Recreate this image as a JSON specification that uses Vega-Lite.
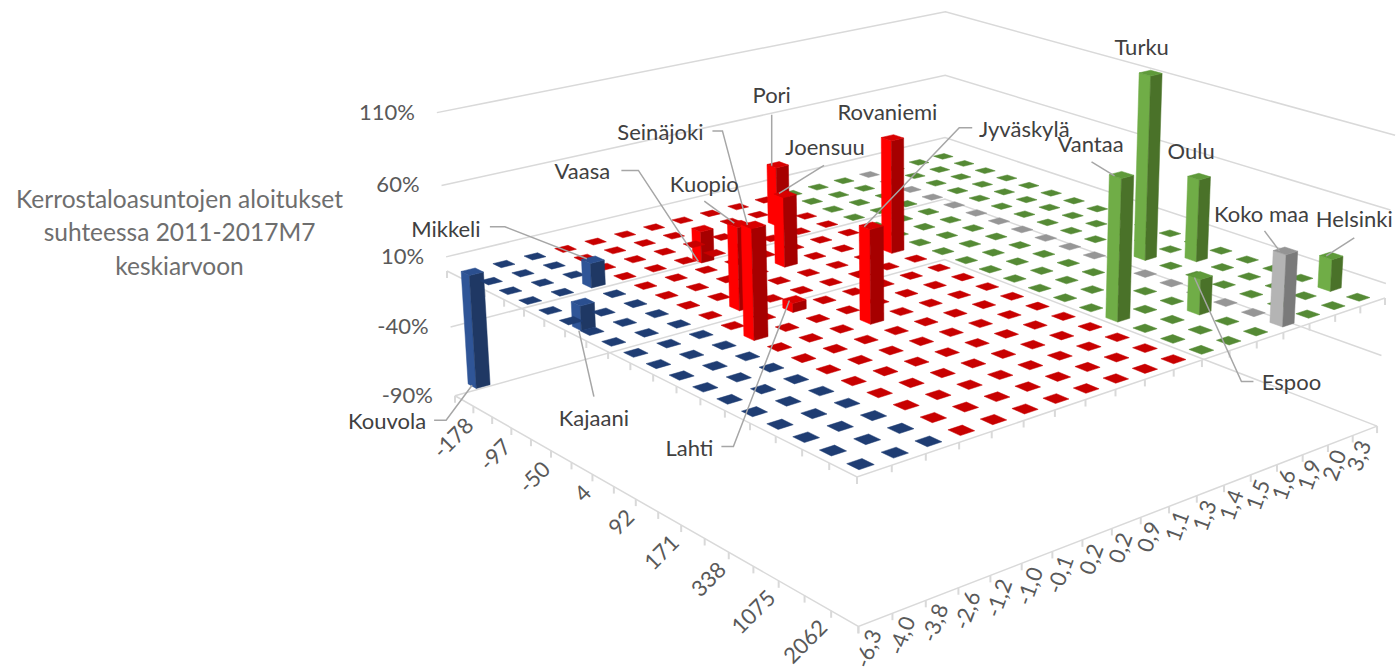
{"$schema":"https://vega.github.io/schema/vega-lite/v6.json","width":1399,"height":669,"padding":0,"autosize":{"type":"none"},"background":"white","config":{"view":{"stroke":null},"text":{"font":"Lato"}},
"params":[
{"name":"muoto","value":[[[-1,-1,1],[1,-1,1],[1,-1,0],[-1,-1,0],[-1,-1,1]],[[1,-1,1],[1,1,1],[1,1,0],[1,-1,0],[1,-1,1]],[[-1,-1,1],[1,-1,1],[1,1,1],[-1,1,1],[-1,-1,1]]]},
{"name":"varit","value":{"sin":["#2F5597","#1F3864","#2B4F8F","#1F3D73"],"pun":["#FF0000","#A60000","#D80000","#C80000"],"vih":["#70AD47","#4A7229","#5F9A3A","#558A35"],"har":["#B4B4B4","#7A7A7A","#949494","#969696"]}},
{"name":"etiketit","value":{
"Turku":{"dx":-9,"dy":-25,"viiva":[]},
"Oulu":{"dx":-8,"dy":-25,"viiva":[]},
"Rovaniemi":{"dx":-5,"dy":-25,"viiva":[]},
"Vantaa":{"dx":-31,"dy":-30,"viiva":[[-30,-13],[-7,1]]},
"Pori":{"dx":-6,"dy":-69,"viiva":[[-6,-50],[-6,1]]},
"Joensuu":{"dx":40,"dy":-46,"viiva":[[39,-29],[-6,-1]]},
"Seinäjoki":{"dx":-93,"dy":-92,"viiva":[[-41,-94],[-31,-94],[-6,0]]},
"Kuopio":{"dx":-35,"dy":-39,"viiva":[[-35,-23],[-5,-1]]},
"Vaasa":{"dx":-121,"dy":-87,"viiva":[[-82,-89],[-65,-89],[-5,2]]},
"Mikkeli":{"dx":-147,"dy":-30,"viiva":[[-103,-33],[-88,-33],[-6,-1]]},
"Kouvola":{"dx":-92,"dy":38,"viiva":[[-45,36],[-33,36],[-7,1]]},
"Kajaani":{"dx":10,"dy":92,"viiva":[[10,70],[-5,4]]},
"Lahti":{"dx":-105,"dy":149,"viiva":[[-73,147],[-61,147],[-5,1]]},
"Jyväskylä":{"dx":153,"dy":-96,"viiva":[[101,-98],[88,-98],[-7,1]]},
"Koko maa":{"dx":-24,"dy":-36,"viiva":[[-21,-20],[-6,0]]},
"Helsinki":{"dx":23,"dy":-36,"viiva":[[23,-18],[-5,0]]},
"Espoo":{"dx":91,"dy":107,"viiva":[[53,106],[41,106],[-6,2]]}
}}
],
"datasets":{
"tasot":[{"taso":110,"reuna":"seina"},{"taso":60,"reuna":"seina"},{"taso":10,"reuna":"seina"},{"taso":-40,"reuna":"seina"},{"taso":-90,"reuna":"seina"},{"taso":0,"reuna":"lattia"},{"taso":-90,"reuna":"lattia"}],
"rajat":[{"k":0},{"k":1},{"k":2},{"k":3},{"k":4},{"k":5},{"k":6},{"k":7},{"k":8},{"k":9},{"k":10},{"k":11},{"k":12},{"k":13},{"k":14},{"k":15},{"k":16},{"k":17},{"k":18}],
"aloitukset":[{"i":0,"nimi":"-178"},{"i":2,"nimi":"-97"},{"i":4,"nimi":"-50"},{"i":6,"nimi":"4"},{"i":8,"nimi":"92"},{"i":10,"nimi":"171"},{"i":12,"nimi":"338"},{"i":14,"nimi":"1075"},{"i":16,"nimi":"2062"}],
"kasvu":[{"j":0,"nimi":"-6,3"},{"j":1,"nimi":"-4,0"},{"j":2,"nimi":"-3,8"},{"j":3,"nimi":"-2,6"},{"j":4,"nimi":"-1,2"},{"j":5,"nimi":"-1,0"},{"j":6,"nimi":"-0,1"},{"j":7,"nimi":"0,2"},{"j":8,"nimi":"0,2"},{"j":9,"nimi":"0,9"},{"j":10,"nimi":"1,1"},{"j":11,"nimi":"1,3"},{"j":12,"nimi":"1,4"},{"j":13,"nimi":"1,5"},{"j":14,"nimi":"1,6"},{"j":15,"nimi":"1,9"},{"j":16,"nimi":"2,0"},{"j":17,"nimi":"3,3"}],
"ruudut":[
{"i":0,"j":0,"arvo":-81,"kaupunki":"Kouvola"},{"i":0,"j":1,"arvo":0},{"i":0,"j":2,"arvo":0},{"i":0,"j":3,"arvo":0},{"i":0,"j":4,"arvo":0},{"i":0,"j":5,"arvo":0},{"i":0,"j":6,"arvo":0},{"i":0,"j":7,"arvo":0},{"i":0,"j":8,"arvo":0},{"i":0,"j":9,"arvo":0},{"i":0,"j":10,"arvo":0},{"i":0,"j":11,"arvo":0},{"i":0,"j":12,"arvo":0},{"i":0,"j":13,"arvo":0},{"i":0,"j":14,"arvo":0},{"i":0,"j":15,"arvo":0},{"i":0,"j":16,"arvo":0},{"i":0,"j":17,"arvo":0},
{"i":1,"j":0,"arvo":0},{"i":1,"j":1,"arvo":0},{"i":1,"j":2,"arvo":0},{"i":1,"j":3,"arvo":0},{"i":1,"j":4,"arvo":0},{"i":1,"j":5,"arvo":0},{"i":1,"j":6,"arvo":0},{"i":1,"j":7,"arvo":-23,"kaupunki":"Vaasa"},{"i":1,"j":8,"arvo":0},{"i":1,"j":9,"arvo":0},{"i":1,"j":10,"arvo":0},{"i":1,"j":11,"arvo":0},{"i":1,"j":12,"arvo":0},{"i":1,"j":13,"arvo":0},{"i":1,"j":14,"arvo":0},{"i":1,"j":15,"arvo":0},{"i":1,"j":16,"arvo":0},{"i":1,"j":17,"arvo":0},
{"i":2,"j":0,"arvo":0},{"i":2,"j":1,"arvo":0},{"i":2,"j":2,"arvo":0},{"i":2,"j":3,"arvo":0},{"i":2,"j":4,"arvo":0},{"i":2,"j":5,"arvo":0},{"i":2,"j":6,"arvo":0},{"i":2,"j":7,"arvo":0},{"i":2,"j":8,"arvo":0},{"i":2,"j":9,"arvo":43,"kaupunki":"Pori"},{"i":2,"j":10,"arvo":0},{"i":2,"j":11,"arvo":0},{"i":2,"j":12,"arvo":0},{"i":2,"j":13,"arvo":0},{"i":2,"j":14,"arvo":0},{"i":2,"j":15,"arvo":0},{"i":2,"j":16,"arvo":0},{"i":2,"j":17,"arvo":0},
{"i":3,"j":0,"arvo":0},{"i":3,"j":1,"arvo":0},{"i":3,"j":2,"arvo":17,"kaupunki":"Mikkeli"},{"i":3,"j":3,"arvo":0},{"i":3,"j":4,"arvo":0},{"i":3,"j":5,"arvo":0},{"i":3,"j":6,"arvo":0},{"i":3,"j":7,"arvo":0},{"i":3,"j":8,"arvo":0},{"i":3,"j":9,"arvo":0},{"i":3,"j":10,"arvo":0},{"i":3,"j":11,"arvo":0},{"i":3,"j":12,"arvo":0},{"i":3,"j":13,"arvo":0},{"i":3,"j":14,"arvo":0},{"i":3,"j":15,"arvo":0},{"i":3,"j":16,"arvo":0},{"i":3,"j":17,"arvo":0},
{"i":4,"j":0,"arvo":0},{"i":4,"j":1,"arvo":-17,"kaupunki":"Kajaani"},{"i":4,"j":2,"arvo":0},{"i":4,"j":3,"arvo":0},{"i":4,"j":4,"arvo":0},{"i":4,"j":5,"arvo":0},{"i":4,"j":6,"arvo":0},{"i":4,"j":7,"arvo":0},{"i":4,"j":8,"arvo":0},{"i":4,"j":9,"arvo":0},{"i":4,"j":10,"arvo":0},{"i":4,"j":11,"arvo":0},{"i":4,"j":12,"arvo":0},{"i":4,"j":13,"arvo":0},{"i":4,"j":14,"arvo":0},{"i":4,"j":15,"arvo":0},{"i":4,"j":16,"arvo":0},{"i":4,"j":17,"arvo":0},
{"i":5,"j":0,"arvo":0},{"i":5,"j":1,"arvo":0},{"i":5,"j":2,"arvo":0},{"i":5,"j":3,"arvo":0},{"i":5,"j":4,"arvo":0},{"i":5,"j":5,"arvo":0},{"i":5,"j":6,"arvo":0},{"i":5,"j":7,"arvo":49,"kaupunki":"Joensuu"},{"i":5,"j":8,"arvo":0},{"i":5,"j":9,"arvo":0},{"i":5,"j":10,"arvo":0},{"i":5,"j":11,"arvo":0},{"i":5,"j":12,"arvo":0},{"i":5,"j":13,"arvo":0},{"i":5,"j":14,"arvo":0},{"i":5,"j":15,"arvo":0},{"i":5,"j":16,"arvo":0},{"i":5,"j":17,"arvo":0},
{"i":6,"j":0,"arvo":0},{"i":6,"j":1,"arvo":0},{"i":6,"j":2,"arvo":0},{"i":6,"j":3,"arvo":0},{"i":6,"j":4,"arvo":0},{"i":6,"j":5,"arvo":0},{"i":6,"j":6,"arvo":0},{"i":6,"j":7,"arvo":0},{"i":6,"j":8,"arvo":0},{"i":6,"j":9,"arvo":0},{"i":6,"j":10,"arvo":80,"kaupunki":"Rovaniemi"},{"i":6,"j":11,"arvo":0},{"i":6,"j":12,"arvo":0},{"i":6,"j":13,"arvo":0},{"i":6,"j":14,"arvo":0},{"i":6,"j":15,"arvo":0},{"i":6,"j":16,"arvo":0},{"i":6,"j":17,"arvo":0},
{"i":7,"j":0,"arvo":0},{"i":7,"j":1,"arvo":0},{"i":7,"j":2,"arvo":0},{"i":7,"j":3,"arvo":0},{"i":7,"j":4,"arvo":56,"kaupunki":"Kuopio"},{"i":7,"j":5,"arvo":0},{"i":7,"j":6,"arvo":0},{"i":7,"j":7,"arvo":0},{"i":7,"j":8,"arvo":0},{"i":7,"j":9,"arvo":0},{"i":7,"j":10,"arvo":0},{"i":7,"j":11,"arvo":0},{"i":7,"j":12,"arvo":0},{"i":7,"j":13,"arvo":0},{"i":7,"j":14,"arvo":0},{"i":7,"j":15,"arvo":0},{"i":7,"j":16,"arvo":0},{"i":7,"j":17,"arvo":0},
{"i":8,"j":0,"arvo":0},{"i":8,"j":1,"arvo":0},{"i":8,"j":2,"arvo":0},{"i":8,"j":3,"arvo":0},{"i":8,"j":4,"arvo":0},{"i":8,"j":5,"arvo":6,"kaupunki":"Lahti"},{"i":8,"j":6,"arvo":0},{"i":8,"j":7,"arvo":0},{"i":8,"j":8,"arvo":0},{"i":8,"j":9,"arvo":0},{"i":8,"j":10,"arvo":0},{"i":8,"j":11,"arvo":0},{"i":8,"j":12,"arvo":0},{"i":8,"j":13,"arvo":0},{"i":8,"j":14,"arvo":0},{"i":8,"j":15,"arvo":0},{"i":8,"j":16,"arvo":0},{"i":8,"j":17,"arvo":0},
{"i":9,"j":0,"arvo":0},{"i":9,"j":1,"arvo":0},{"i":9,"j":2,"arvo":0},{"i":9,"j":3,"arvo":73,"kaupunki":"Seinäjoki"},{"i":9,"j":4,"arvo":0},{"i":9,"j":5,"arvo":0},{"i":9,"j":6,"arvo":0},{"i":9,"j":7,"arvo":0},{"i":9,"j":8,"arvo":0},{"i":9,"j":9,"arvo":0},{"i":9,"j":10,"arvo":0},{"i":9,"j":11,"arvo":0},{"i":9,"j":12,"arvo":0},{"i":9,"j":13,"arvo":0},{"i":9,"j":14,"arvo":0},{"i":9,"j":15,"arvo":0},{"i":9,"j":16,"arvo":0},{"i":9,"j":17,"arvo":0},
{"i":10,"j":0,"arvo":0},{"i":10,"j":1,"arvo":0},{"i":10,"j":2,"arvo":0},{"i":10,"j":3,"arvo":0},{"i":10,"j":4,"arvo":0},{"i":10,"j":5,"arvo":0},{"i":10,"j":6,"arvo":63,"kaupunki":"Jyväskylä"},{"i":10,"j":7,"arvo":0},{"i":10,"j":8,"arvo":0},{"i":10,"j":9,"arvo":0},{"i":10,"j":10,"arvo":0},{"i":10,"j":11,"arvo":0},{"i":10,"j":12,"arvo":0},{"i":10,"j":13,"arvo":0},{"i":10,"j":14,"arvo":0},{"i":10,"j":15,"arvo":0},{"i":10,"j":16,"arvo":0},{"i":10,"j":17,"arvo":0},
{"i":11,"j":0,"arvo":0},{"i":11,"j":1,"arvo":0},{"i":11,"j":2,"arvo":0},{"i":11,"j":3,"arvo":0},{"i":11,"j":4,"arvo":0},{"i":11,"j":5,"arvo":0},{"i":11,"j":6,"arvo":0},{"i":11,"j":7,"arvo":0},{"i":11,"j":8,"arvo":0},{"i":11,"j":9,"arvo":0},{"i":11,"j":10,"arvo":0},{"i":11,"j":11,"arvo":0},{"i":11,"j":12,"arvo":0},{"i":11,"j":13,"arvo":0},{"i":11,"j":14,"arvo":0},{"i":11,"j":15,"arvo":129,"kaupunki":"Turku"},{"i":11,"j":16,"arvo":0},{"i":11,"j":17,"arvo":0},
{"i":12,"j":0,"arvo":0},{"i":12,"j":1,"arvo":0},{"i":12,"j":2,"arvo":0},{"i":12,"j":3,"arvo":0},{"i":12,"j":4,"arvo":0},{"i":12,"j":5,"arvo":0},{"i":12,"j":6,"arvo":0},{"i":12,"j":7,"arvo":0},{"i":12,"j":8,"arvo":0},{"i":12,"j":9,"arvo":0},{"i":12,"j":10,"arvo":0},{"i":12,"j":11,"arvo":0},{"i":12,"j":12,"arvo":0},{"i":12,"j":13,"arvo":0},{"i":12,"j":14,"arvo":0},{"i":12,"j":15,"arvo":0},{"i":12,"j":16,"arvo":58,"kaupunki":"Oulu"},{"i":12,"j":17,"arvo":0},
{"i":13,"j":0,"arvo":0},{"i":13,"j":1,"arvo":0},{"i":13,"j":2,"arvo":0},{"i":13,"j":3,"arvo":0},{"i":13,"j":4,"arvo":0},{"i":13,"j":5,"arvo":0},{"i":13,"j":6,"arvo":0},{"i":13,"j":7,"arvo":0},{"i":13,"j":8,"arvo":0},{"i":13,"j":9,"arvo":0},{"i":13,"j":10,"arvo":0},{"i":13,"j":11,"arvo":0},{"i":13,"j":12,"arvo":0},{"i":13,"j":13,"arvo":0},{"i":13,"j":14,"arvo":0},{"i":13,"j":15,"arvo":0},{"i":13,"j":16,"arvo":0},{"i":13,"j":17,"arvo":0},
{"i":14,"j":0,"arvo":0},{"i":14,"j":1,"arvo":0},{"i":14,"j":2,"arvo":0},{"i":14,"j":3,"arvo":0},{"i":14,"j":4,"arvo":0},{"i":14,"j":5,"arvo":0},{"i":14,"j":6,"arvo":0},{"i":14,"j":7,"arvo":0},{"i":14,"j":8,"arvo":0},{"i":14,"j":9,"arvo":0},{"i":14,"j":10,"arvo":0},{"i":14,"j":11,"arvo":95,"kaupunki":"Vantaa"},{"i":14,"j":12,"arvo":0},{"i":14,"j":13,"arvo":0},{"i":14,"j":14,"arvo":0},{"i":14,"j":15,"arvo":0},{"i":14,"j":16,"arvo":0},{"i":14,"j":17,"arvo":0},
{"i":15,"j":0,"arvo":0},{"i":15,"j":1,"arvo":0},{"i":15,"j":2,"arvo":0},{"i":15,"j":3,"arvo":0},{"i":15,"j":4,"arvo":0},{"i":15,"j":5,"arvo":0},{"i":15,"j":6,"arvo":0},{"i":15,"j":7,"arvo":0},{"i":15,"j":8,"arvo":0},{"i":15,"j":9,"arvo":0},{"i":15,"j":10,"arvo":0},{"i":15,"j":11,"arvo":0},{"i":15,"j":12,"arvo":0},{"i":15,"j":13,"arvo":24,"kaupunki":"Espoo"},{"i":15,"j":14,"arvo":0},{"i":15,"j":15,"arvo":0},{"i":15,"j":16,"arvo":0},{"i":15,"j":17,"arvo":0},
{"i":16,"j":0,"arvo":0},{"i":16,"j":1,"arvo":0},{"i":16,"j":2,"arvo":0},{"i":16,"j":3,"arvo":0},{"i":16,"j":4,"arvo":0},{"i":16,"j":5,"arvo":0},{"i":16,"j":6,"arvo":0},{"i":16,"j":7,"arvo":0},{"i":16,"j":8,"arvo":0},{"i":16,"j":9,"arvo":0},{"i":16,"j":10,"arvo":0},{"i":16,"j":11,"arvo":0},{"i":16,"j":12,"arvo":0},{"i":16,"j":13,"arvo":0},{"i":16,"j":14,"arvo":0},{"i":16,"j":15,"arvo":0},{"i":16,"j":16,"arvo":0},{"i":16,"j":17,"arvo":22,"kaupunki":"Helsinki"},
{"i":17,"j":0,"arvo":0},{"i":17,"j":1,"arvo":0},{"i":17,"j":2,"arvo":0},{"i":17,"j":3,"arvo":0},{"i":17,"j":4,"arvo":0},{"i":17,"j":5,"arvo":0},{"i":17,"j":6,"arvo":0},{"i":17,"j":7,"arvo":0},{"i":17,"j":8,"arvo":0},{"i":17,"j":9,"arvo":0},{"i":17,"j":10,"arvo":0},{"i":17,"j":11,"arvo":0},{"i":17,"j":12,"arvo":0},{"i":17,"j":13,"arvo":0},{"i":17,"j":14,"arvo":48,"kaupunki":"Koko maa"},{"i":17,"j":15,"arvo":0},{"i":17,"j":16,"arvo":0},{"i":17,"j":17,"arvo":0}
]},
"data":{"name":"ruudut"},
"transform":[
{"calculate":"datum.arvo===0?[2]:[0,1,2]","as":"sivut"},
{"flatten":["sivut"],"as":["sivu"]},
{"calculate":"muoto[datum.sivu]","as":"kulmat"},
{"flatten":["kulmat"],"as":["p"]},
{"calculate":"(datum.i+0.5+datum.p[0]*0.22)/18","as":"u"},
{"calculate":"(datum.j+0.5+datum.p[1]*0.22)/18","as":"v"},
{"calculate":"datum.p[2]===1?max(datum.arvo,0):min(datum.arvo,0)","as":"z"},
{"calculate":"-0.19095*datum.u+0.16095*datum.v+1-0.000189*datum.z","as":"w"},
{"calculate":"(246.36*datum.u+650.1*datum.v+447-0.000189*datum.z*924)/datum.w","as":"x"},
{"calculate":"(114.92*datum.u-96.86*datum.v+271-0.000189*datum.z*7730)/datum.w","as":"y"},
{"calculate":"datum.j<=2?'sin':datum.j<=10?'pun':datum.j===14?'har':'vih'","as":"ryhma"},
{"calculate":"varit[datum.ryhma][datum.arvo===0?3:datum.sivu]","as":"vari"},
{"calculate":"'r'+datum.i+'_'+datum.j+'_'+datum.sivu","as":"tahko"}
],
"encoding":{
"x":{"field":"x","type":"quantitative","scale":{"domain":[0,1399],"range":[0,1399],"nice":false,"zero":false},"axis":null},
"y":{"field":"y","type":"quantitative","scale":{"domain":[0,669],"range":[0,669],"nice":false,"zero":false},
"axis":{"title":["Kerrostaloasuntojen aloitukset","suhteessa 2011-2017M7","keskiarvoon"],"titleX":179,"titleY":200,"titleAngle":0,"titleAlign":"center","titleBaseline":"middle","titleFont":"Lato","titleFontSize":24.5,"titleFontWeight":"normal","titleColor":"#6E6E6E","titleLineHeight":33.5,"labels":false,"ticks":false,"domain":false,"grid":false}}
},
"layer":[
{"data":{"name":"tasot"},"transform":[
{"calculate":"datum.reuna==='seina'?[[0,0],[0,1],[1,1]]:[[0,0],[1,0],[1,1]]","as":"pisteet"},
{"flatten":["pisteet"],"as":["p"]},
{"calculate":"datum.p[0]","as":"u"},{"calculate":"datum.p[1]","as":"v"},{"calculate":"datum.taso","as":"z"},
{"calculate":"-0.19095*datum.u+0.16095*datum.v+1-0.000189*datum.z","as":"w"},
{"calculate":"(246.36*datum.u+650.1*datum.v+447-0.000189*datum.z*924)/datum.w","as":"x"},
{"calculate":"(114.92*datum.u-96.86*datum.v+271-0.000189*datum.z*7730)/datum.w","as":"y"},
{"calculate":"datum.reuna+datum.taso","as":"viiva"}],
"mark":{"type":"line","stroke":"#D9D9D9","strokeWidth":1.5},
"encoding":{"detail":{"field":"viiva"},"order":{"value":null}}},
{"data":{"name":"rajat"},"transform":[
{"calculate":"[[0,0],[0,-90],[1,0],[1,-90]]","as":"reunat"},
{"flatten":["reunat"],"as":["e"]},
{"calculate":"datum.e[0]===0?datum.k/18:1","as":"u"},{"calculate":"datum.e[0]===0?0:datum.k/18","as":"v"},{"calculate":"datum.e[1]","as":"z"},
{"calculate":"-0.19095*datum.u+0.16095*datum.v+1-0.000189*datum.z","as":"w"},
{"calculate":"(246.36*datum.u+650.1*datum.v+447-0.000189*datum.z*924)/datum.w","as":"x"},
{"calculate":"(114.92*datum.u-96.86*datum.v+271-0.000189*datum.z*7730)/datum.w","as":"y"},
{"calculate":"datum.y+7","as":"y2"}],
"mark":{"type":"rule","stroke":"#D9D9D9","strokeWidth":2},
"encoding":{"y2":{"field":"y2"}}},
{"transform":[{"filter":"datum.arvo<0"}],"mark":{"type":"line","strokeWidth":0.5,"filled":true,"interpolate":"linear"},
"encoding":{"detail":{"field":"tahko"},"order":{"value":null},"fill":{"field":"vari","type":"nominal","scale":null},"stroke":{"field":"vari","type":"nominal","scale":null}}},
{"transform":[{"filter":"datum.arvo===0"}],"mark":{"type":"line","strokeWidth":0.5,"filled":true},
"encoding":{"detail":{"field":"tahko"},"order":{"value":null},"fill":{"field":"vari","type":"nominal","scale":null},"stroke":{"field":"vari","type":"nominal","scale":null}}},
{"transform":[{"filter":"datum.arvo>0"}],"mark":{"type":"line","strokeWidth":0.5,"filled":true},
"encoding":{"detail":{"field":"tahko"},"order":{"value":null},"fill":{"field":"vari","type":"nominal","scale":null},"stroke":{"field":"vari","type":"nominal","scale":null}}},
{"data":{"name":"ruudut"},"transform":[
{"filter":"isValid(datum.kaupunki)"},
{"calculate":"etiketit[datum.kaupunki].viiva","as":"viivat"},
{"flatten":["viivat"],"as":["o"]},
{"filter":"isValid(datum.o)"},
{"calculate":"(datum.i+0.5)/18","as":"u"},{"calculate":"(datum.j+0.5)/18","as":"v"},
{"calculate":"-0.19095*datum.u+0.16095*datum.v+1-0.000189*datum.arvo","as":"w"},
{"calculate":"(246.36*datum.u+650.1*datum.v+447-0.000189*datum.arvo*924)/datum.w+datum.o[0]","as":"x"},
{"calculate":"(114.92*datum.u-96.86*datum.v+271-0.000189*datum.arvo*7730)/datum.w+datum.o[1]","as":"y"}],
"mark":{"type":"line","stroke":"#A6A6A6","strokeWidth":1.5},
"encoding":{"detail":{"field":"kaupunki"},"order":{"value":null}}},
{"data":{"name":"ruudut"},"transform":[
{"filter":"isValid(datum.kaupunki)"},
{"calculate":"(datum.i+0.5)/18","as":"u"},{"calculate":"(datum.j+0.5)/18","as":"v"},
{"calculate":"-0.19095*datum.u+0.16095*datum.v+1-0.000189*datum.arvo","as":"w"},
{"calculate":"(246.36*datum.u+650.1*datum.v+447-0.000189*datum.arvo*924)/datum.w+etiketit[datum.kaupunki].dx","as":"x"},
{"calculate":"(114.92*datum.u-96.86*datum.v+271-0.000189*datum.arvo*7730)/datum.w+etiketit[datum.kaupunki].dy","as":"y"}],
"mark":{"type":"text","fontSize":22,"fill":"#404040","align":"center","baseline":"middle"},
"encoding":{"text":{"field":"kaupunki"}}},
{"data":{"name":"tasot"},"transform":[
{"filter":"datum.reuna==='seina'"},
{"calculate":"1-0.000189*datum.taso","as":"w"},
{"calculate":"(447-0.000189*datum.taso*924)/datum.w","as":"x"},
{"calculate":"(271-0.000189*datum.taso*7730)/datum.w","as":"y"},
{"calculate":"datum.taso+'%'","as":"nimi"}],
"mark":{"type":"text","fontSize":22,"fill":"#595959","align":"right","baseline":"middle","dx":-22},
"encoding":{"text":{"field":"nimi"}}},
{"data":{"name":"aloitukset"},"transform":[
{"calculate":"(datum.i+0.5)/18","as":"u"},
{"calculate":"-0.19095*datum.u+1+0.017","as":"w"},
{"calculate":"(246.36*datum.u+447+0.017*924)/datum.w+6","as":"x"},
{"calculate":"(114.92*datum.u+271+0.017*7730)/datum.w+21","as":"y"}],
"mark":{"type":"text","fontSize":22,"fill":"#595959","align":"right","baseline":"middle","angle":-45},
"encoding":{"text":{"field":"nimi"}}},
{"data":{"name":"kasvu"},"transform":[
{"calculate":"(datum.j+0.5)/18","as":"v"},
{"calculate":"0.80905+0.16095*datum.v+0.017","as":"w"},
{"calculate":"(246.36+650.1*datum.v+447+0.017*924)/datum.w","as":"x"},
{"calculate":"(114.92-96.86*datum.v+271+0.017*7730)/datum.w+11","as":"y"}],
"mark":{"type":"text","fontSize":22,"fill":"#595959","align":"right","baseline":"middle","angle":-70},
"encoding":{"text":{"field":"nimi"}}}
]}
